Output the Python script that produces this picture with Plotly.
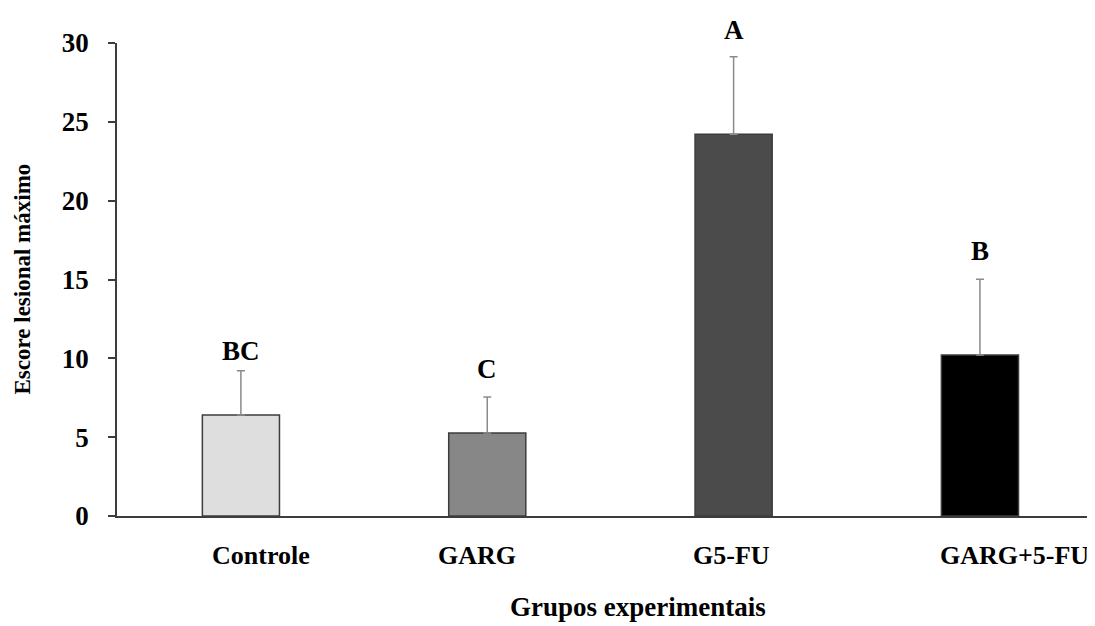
import plotly.graph_objects as go

categories = ["Controle", "GARG", "G5-FU", "GARG+5-FU"]
means = [6.40, 5.26, 24.22, 10.21]
errors = [2.81, 2.28, 4.90, 4.80]
letters = ["BC", "C", "A", "B"]
letter_shift = [20, 28, 27, 28]
bar_colors = ["#dedede", "#878787", "#4b4b4b", "#000000"]
label_offsets = [0.08, -0.04, -0.01, 0.14]
y_ticks = [0, 5, 10, 15, 20, 25, 30]

FONT = "Liberation Serif"
xpos = list(range(len(categories)))

fig = go.Figure()
fig.add_trace(go.Bar(
    x=xpos, y=means, width=0.313,
    marker=dict(color=bar_colors, line=dict(color="#3c3c3c", width=1.5)),
    error_y=dict(type="data", array=errors, arrayminus=[0] * len(errors),
                 symmetric=False, color="#8a8a8a", thickness=1.5, width=4),
    showlegend=False,
))

ann = []
for i, (lt, m, e, s) in enumerate(zip(letters, means, errors, letter_shift)):
    ann.append(dict(x=i, y=m + e, xref="x", yref="y", text="<b>%s</b>" % lt,
                    showarrow=False, yanchor="middle", yshift=s,
                    font=dict(family=FONT, size=27, color="black")))
for i, (c, off) in enumerate(zip(categories, label_offsets)):
    ann.append(dict(x=i + off, y=0, xref="x", yref="y", text="<b>%s</b>" % c,
                    showarrow=False, yanchor="middle", yshift=-39,
                    font=dict(family=FONT, size=26, color="black")))
ann.append(dict(x=1.61, y=0, xref="x", yref="y", text="<b>Grupos experimentais</b>",
                showarrow=False, yanchor="middle", yshift=-91,
                font=dict(family=FONT, size=27, color="black")))
ann.append(dict(x=0, y=0.5, xref="x domain", yref="paper", xanchor="center",
                xshift=-95, text="<b>Escore lesional máximo</b>", showarrow=False,
                textangle=-90, yanchor="middle",
                font=dict(family=FONT, size=23, color="black")))

fig.update_layout(
    width=1087, height=618,
    margin=dict(l=109, r=0, t=35, b=110),
    paper_bgcolor="white", plot_bgcolor="white",
    xaxis=dict(range=[-0.503, 3.467], showticklabels=False, ticks="",
               showline=True, linecolor="#3c3c3c", linewidth=1.5,
               showgrid=False, zeroline=False),
    yaxis=dict(range=[0, 30], tickvals=y_ticks, ticks="outside", ticklen=7,
               tickcolor="#3c3c3c", tickwidth=1.5,
               showline=True, linecolor="#3c3c3c", linewidth=1.5,
               showgrid=False, zeroline=False, ticklabelstandoff=14,
               tickfont=dict(family=FONT, size=27, color="black", weight="bold")),
    annotations=ann,
    font=dict(family=FONT),
)

fig.write_html("out.html")
